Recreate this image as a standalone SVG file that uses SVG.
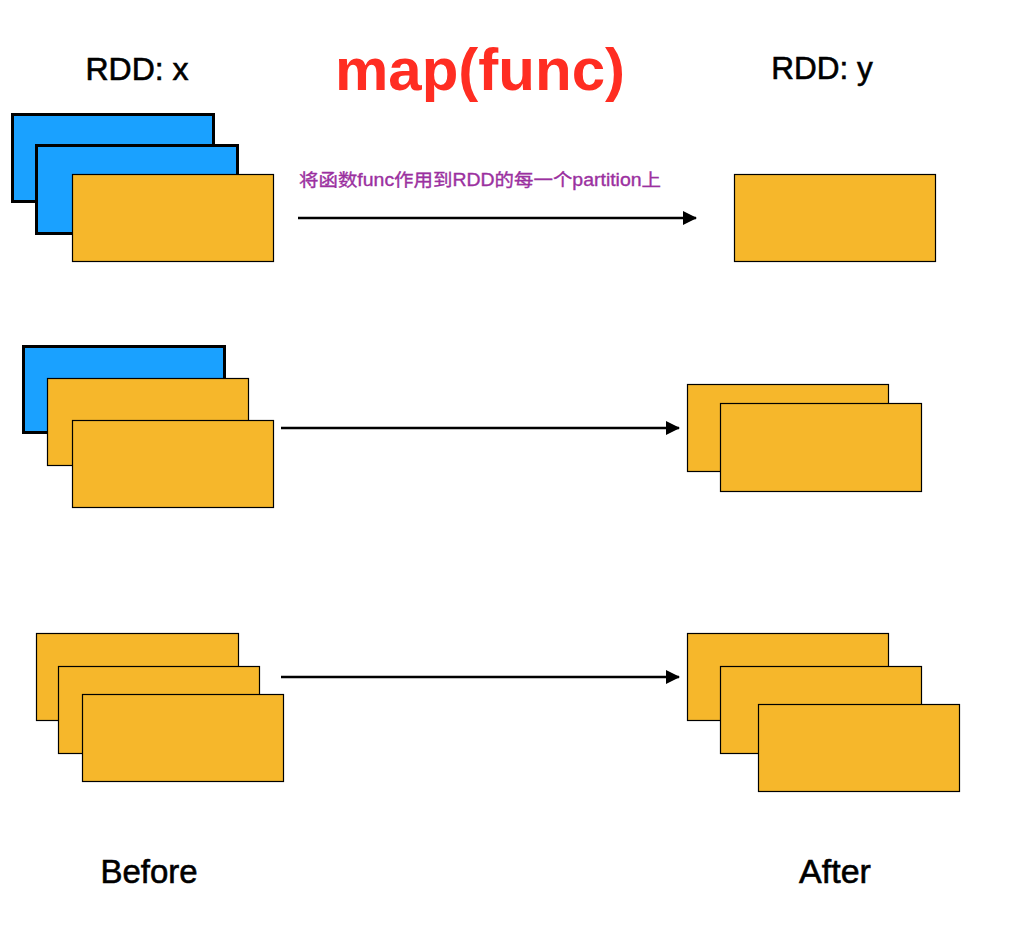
<svg xmlns="http://www.w3.org/2000/svg" width="1014" height="936" viewBox="0 0 1014 936">
<style>
.blue{fill:#1aa1ff;stroke:#000;stroke-width:3}
.org{fill:#f6b72b;stroke:#000;stroke-width:1.2}
.lbl{font-family:"Liberation Sans",Arial,sans-serif;fill:#000;stroke:#000;stroke-width:0.6;text-anchor:middle}
.conn{stroke:#000;stroke-width:2.5;fill:none}
</style>
<defs>
<marker id="ah" markerUnits="userSpaceOnUse" markerWidth="16" markerHeight="16" refX="13" refY="8" orient="auto">
<path d="M0,1 L14,8 L0,15 Z" fill="#000"/>
</marker>
</defs>
<rect width="1014" height="936" fill="#fff"/>
<g id="titles">
<text class="lbl" x="137" y="80" font-size="32">RDD: x</text>
<text class="lbl" x="822" y="79" font-size="31.5">RDD: y</text>
<text x="480" y="90" font-family="'Liberation Sans',Arial,sans-serif" font-size="60" font-weight="bold" fill="#ff2d22" text-anchor="middle">map(func)</text>
<text class="lbl" x="149" y="883" font-size="33">Before</text>
<text class="lbl" x="835" y="883" font-size="34">After</text>
</g>
<g id="x-row1">
<rect class="blue" x="12.5" y="114.5" width="201" height="87"/>
<rect class="blue" x="36.5" y="145.5" width="201" height="88"/>
<rect class="org" x="72.5" y="174.5" width="201" height="87"/>
</g>
<g id="x-row2">
<rect class="blue" x="23.5" y="346.5" width="201" height="86"/>
<rect class="org" x="47.5" y="378.5" width="201" height="87"/>
<rect class="org" x="72.5" y="420.5" width="201" height="87"/>
</g>
<g id="x-row3">
<rect class="org" x="36.5" y="633.5" width="202" height="87"/>
<rect class="org" x="58.5" y="666.5" width="201" height="87"/>
<rect class="org" x="82.5" y="694.5" width="201" height="87"/>
</g>
<g id="y-row1">
<rect class="org" x="734.5" y="174.5" width="201" height="87"/>
</g>
<g id="y-row2">
<rect class="org" x="687.5" y="384.5" width="201" height="87"/>
<rect class="org" x="720.5" y="403.5" width="201" height="88"/>
</g>
<g id="y-row3">
<rect class="org" x="687.5" y="633.5" width="201" height="87"/>
<rect class="org" x="720.5" y="666.5" width="201" height="87"/>
<rect class="org" x="758.5" y="704.5" width="201" height="87"/>
</g>
<g id="connectors">
<line class="conn" x1="298" y1="218" x2="696" y2="218" marker-end="url(#ah)"/>
<line class="conn" x1="281" y1="428" x2="679" y2="428" marker-end="url(#ah)"/>
<line class="conn" x1="281" y1="677" x2="679" y2="677" marker-end="url(#ah)"/>
<text x="299" y="186" font-family="'Liberation Sans','Noto Sans CJK SC',sans-serif" font-size="17.5" fill="#9b30a0" stroke="#9b30a0" stroke-width="0.35" textLength="362" lengthAdjust="spacingAndGlyphs">将函数func作用到RDD的每一个partition上</text>
</g>
</svg>
